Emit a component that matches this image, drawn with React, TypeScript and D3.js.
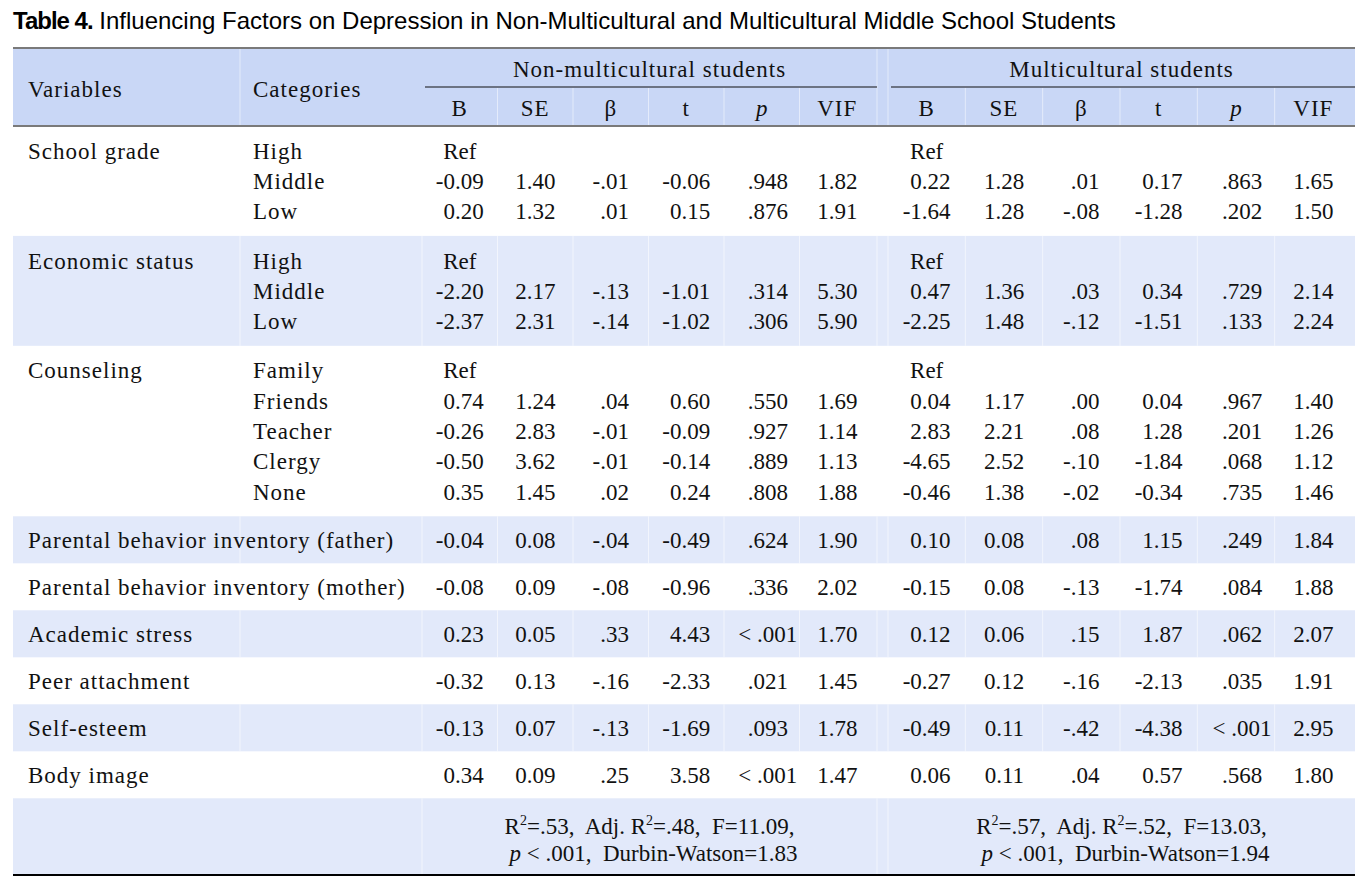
import React, { useMemo } from 'react';
import * as d3 from 'd3';

const TITLE_BOLD = 'Table 4.';
const TITLE_REST = ' Influencing Factors on Depression in Non-Multicultural and Multicultural Middle School Students';
const groupHeaders = ['Non-multicultural students', 'Multicultural students'];
const statCols = ['B', 'SE', 'β', 't', 'p', 'VIF'];

const variableNames = [
  'School grade',
  'Economic status',
  'Counseling',
  'Parental behavior inventory (father)',
  'Parental behavior inventory (mother)',
  'Academic stress',
  'Peer attachment',
  'Self-esteem',
  'Body image',
];

const categoryNames = [
  ['High', 'Middle', 'Low'],
  ['High', 'Middle', 'Low'],
  ['Family', 'Friends', 'Teacher', 'Clergy', 'None'],
  [''],
  [''],
  [''],
  [''],
  [''],
  [''],
];

const nonMultiValues = [
  [['Ref'], ['-0.09', '1.40', '-.01', '-0.06', '.948', '1.82'], ['0.20', '1.32', '.01', '0.15', '.876', '1.91']],
  [['Ref'], ['-2.20', '2.17', '-.13', '-1.01', '.314', '5.30'], ['-2.37', '2.31', '-.14', '-1.02', '.306', '5.90']],
  [
    ['Ref'],
    ['0.74', '1.24', '.04', '0.60', '.550', '1.69'],
    ['-0.26', '2.83', '-.01', '-0.09', '.927', '1.14'],
    ['-0.50', '3.62', '-.01', '-0.14', '.889', '1.13'],
    ['0.35', '1.45', '.02', '0.24', '.808', '1.88'],
  ],
  [['-0.04', '0.08', '-.04', '-0.49', '.624', '1.90']],
  [['-0.08', '0.09', '-.08', '-0.96', '.336', '2.02']],
  [['0.23', '0.05', '.33', '4.43', '< .001', '1.70']],
  [['-0.32', '0.13', '-.16', '-2.33', '.021', '1.45']],
  [['-0.13', '0.07', '-.13', '-1.69', '.093', '1.78']],
  [['0.34', '0.09', '.25', '3.58', '< .001', '1.47']],
];

const multiValues = [
  [['Ref'], ['0.22', '1.28', '.01', '0.17', '.863', '1.65'], ['-1.64', '1.28', '-.08', '-1.28', '.202', '1.50']],
  [['Ref'], ['0.47', '1.36', '.03', '0.34', '.729', '2.14'], ['-2.25', '1.48', '-.12', '-1.51', '.133', '2.24']],
  [
    ['Ref'],
    ['0.04', '1.17', '.00', '0.04', '.967', '1.40'],
    ['2.83', '2.21', '.08', '1.28', '.201', '1.26'],
    ['-4.65', '2.52', '-.10', '-1.84', '.068', '1.12'],
    ['-0.46', '1.38', '-.02', '-0.34', '.735', '1.46'],
  ],
  [['0.10', '0.08', '.08', '1.15', '.249', '1.84']],
  [['-0.15', '0.08', '-.13', '-1.74', '.084', '1.88']],
  [['0.12', '0.06', '.15', '1.87', '.062', '2.07']],
  [['-0.27', '0.12', '-.16', '-2.13', '.035', '1.91']],
  [['-0.49', '0.11', '-.42', '-4.38', '< .001', '2.95']],
  [['0.06', '0.11', '.04', '0.57', '.568', '1.80']],
];

const footerStats = [
  { r2: '.53', adj: '.48', f: '11.09', p: '.001', dw: '1.83' },
  { r2: '.57', adj: '.52', f: '13.03', p: '.001', dw: '1.94' },
];

const SERIF = '"Liberation Serif", "Times New Roman", serif';
const SANS = '"Liberation Sans", Arial, sans-serif';
const FS = 23;
const LS = 1.0;
const HEADER_BG = '#c9d7f6';
const STRIPE_BG = '#e2e9fa';

function measure(text: string, font: string): number {
  if (typeof document === 'undefined') return text.length * 11;
  const c = (measure as any).c || ((measure as any).c = document.createElement('canvas'));
  const ctx = c.getContext('2d');
  ctx.font = font;
  return ctx.measureText(text).width;
}

export default function App() {
  const W = 1369;
  const H = 878;
  const tableLeft = 13;
  const tableRight = 1355;
  const varX = 28;
  const catX = 253;
  const varColEnd = 240;
  const statStart = 422;
  const headerTop = 48;
  const headerBottom = 126;
  const lineH = 30.3;

  const xGroups = [
    d3.scaleBand().domain(statCols).range([statStart, 875]),
    d3.scaleBand().domain(statCols).range([888, 1352]),
  ];
  const groupSpans = [
    [statStart, 877],
    [888, tableRight],
  ];
  const valueSets = [nonMultiValues, multiValues];

  const anchors = useMemo(() => {
    const font = `${FS}px ${SERIF}`;
    return valueSets.map((vals, gi) =>
      statCols.map((col, ci) => {
        let maxW = 0;
        vals.forEach((sec) =>
          sec.forEach((row) => {
            if (row.length > 1) maxW = Math.max(maxW, measure(row[ci], font));
          })
        );
        const sc = xGroups[gi];
        return (sc(col) as number) + sc.bandwidth() / 2 + maxW / 2;
      })
    );
  }, []);

  const sectionLines = categoryNames.map((c) => c.length);
  const sectionHeights = sectionLines.map((n) => n * lineH + (n > 1 ? 19 : 16.7));
  const sectionTops = [headerBottom, ...Array.from(d3.cumsum(sectionHeights)).map((v) => headerBottom + v)];
  const footerTop = sectionTops[sectionTops.length - 1];
  const footerBottom = 874;

  const sepXs: number[] = [];
  xGroups.forEach((sc) => statCols.forEach((c, i) => i > 0 && sepXs.push(sc(c) as number)));

  const rows: React.ReactNode[] = [];
  sectionLines.forEach((n, si) => {
    const top = sectionTops[si];
    const h = sectionHeights[si];
    const mid = top + h / 2;
    const striped = si % 2 === 1;
    rows.push(
      <g key={`bg${si}`}>
        {striped && <rect x={tableLeft} y={top} width={tableRight - tableLeft} height={h} fill={STRIPE_BG} />}
        {striped &&
          [varColEnd, statStart, 877, 888, ...sepXs].map((x, k) => (
            <line key={k} x1={x} x2={x} y1={top} y2={top + h} stroke="#fff" strokeOpacity={0.55} strokeWidth={1} />
          ))}
      </g>
    );
    const firstCenter = mid - ((n - 1) / 2) * lineH;
    rows.push(
      <text key={`v${si}`} x={varX} y={firstCenter + 8} fontFamily={SERIF} fontSize={FS} letterSpacing={LS} fill="#111">
        {variableNames[si]}
      </text>
    );
    categoryNames[si].forEach((cat, li) => {
      const cy = firstCenter + li * lineH + 8;
      if (cat)
        rows.push(
          <text key={`c${si}-${li}`} x={catX} y={cy} fontFamily={SERIF} fontSize={FS} letterSpacing={LS} fill="#111">
            {cat}
          </text>
        );
      valueSets.forEach((vals, gi) => {
        const row = vals[si][li];
        const sc = xGroups[gi];
        if (row.length === 1) {
          rows.push(
            <text key={`r${si}-${li}-${gi}`} x={(sc('B') as number) + sc.bandwidth() / 2} y={cy} textAnchor="middle" fontFamily={SERIF} fontSize={FS} fill="#111">
              {row[0]}
            </text>
          );
        } else {
          row.forEach((v, ci) => {
            const isP = statCols[ci] === 'p';
            const x = isP ? (sc('p') as number) + sc.bandwidth() / 2 + 6 : anchors[gi][ci];
            rows.push(
              <text key={`d${si}-${li}-${gi}-${ci}`} x={x} y={cy} textAnchor={isP ? 'middle' : 'end'} fontFamily={SERIF} fontSize={FS} fill="#111" style={{ whiteSpace: 'pre' }}>
                {v}
              </text>
            );
          });
        }
      });
    });
  });

  return (
    <svg width={W} height={H} style={{ position: 'absolute', left: 0, top: 0, background: '#fff' }}>
      <text x={13} y={29} fontFamily={SANS} fontSize={24} fill="#000">
        <tspan fontWeight="bold" letterSpacing={-1}>{TITLE_BOLD}</tspan>
        <tspan style={{ whiteSpace: 'pre' }}>{TITLE_REST}</tspan>
      </text>

      <rect x={tableLeft} y={headerTop} width={tableRight - tableLeft} height={headerBottom - headerTop} fill={HEADER_BG} />
      {[varColEnd, 877, 888].map((x, k) => (
        <line key={k} x1={x} x2={x} y1={headerTop} y2={headerBottom} stroke="#fff" strokeOpacity={0.5} />
      ))}
      {sepXs.map((x, k) => (
        <line key={`hs${k}`} x1={x} x2={x} y1={88} y2={headerBottom} stroke="#fff" strokeOpacity={0.5} />
      ))}
      <line x1={tableLeft} x2={tableRight} y1={headerTop} y2={headerTop} stroke="#7a7a7a" strokeWidth={2} />
      <line x1={tableLeft} x2={tableRight} y1={headerBottom} y2={headerBottom} stroke="#7a7a7a" strokeWidth={2} />
      <text x={varX} y={97} fontFamily={SERIF} fontSize={FS} letterSpacing={LS} fill="#111">Variables</text>
      <text x={catX} y={97} fontFamily={SERIF} fontSize={FS} letterSpacing={LS} fill="#111">Categories</text>
      {groupHeaders.map((g, gi) => (
        <g key={g}>
          <text x={(groupSpans[gi][0] + groupSpans[gi][1]) / 2} y={77} textAnchor="middle" fontFamily={SERIF} fontSize={FS} letterSpacing={LS} fill="#111">
            {g}
          </text>
          <line x1={groupSpans[gi][0] + 3} x2={groupSpans[gi][1]} y1={87} y2={87} stroke="#111" strokeWidth={1.2} />
          {statCols.map((c) => (
            <text key={c} x={(xGroups[gi](c) as number) + xGroups[gi].bandwidth() / 2} y={116} textAnchor="middle" fontFamily={SERIF} fontSize={FS} fontStyle={c === 'p' ? 'italic' : 'normal'} letterSpacing={c === 'p' ? 0 : LS} fill="#111">
              {c}
            </text>
          ))}
        </g>
      ))}

      {rows}

      <rect x={tableLeft} y={footerTop} width={tableRight - tableLeft} height={footerBottom - footerTop} fill={STRIPE_BG} />
      {[statStart, 877, 888].map((x, k) => (
        <line key={`fs${k}`} x1={x} x2={x} y1={footerTop} y2={footerBottom} stroke="#fff" strokeOpacity={0.55} />
      ))}
      {footerStats.map((s, gi) => {
        const cx = (groupSpans[gi][0] + groupSpans[gi][1]) / 2;
        return (
          <g key={`f${gi}`} fontFamily={SERIF} fontSize={FS} fill="#111">
            <text x={cx} y={834} textAnchor="middle" style={{ whiteSpace: 'pre' }}>
              <tspan>R</tspan>
              <tspan fontSize={14} dy={-9}>2</tspan>
              <tspan dy={9}>{`=${s.r2},  Adj. R`}</tspan>
              <tspan fontSize={14} dy={-9}>2</tspan>
              <tspan dy={9}>{`=${s.adj},  F=${s.f},`}</tspan>
            </text>
            <text x={cx + 4} y={861} textAnchor="middle" style={{ whiteSpace: 'pre' }}>
              <tspan fontStyle="italic">p</tspan>
              <tspan>{` < ${s.p},  Durbin-Watson=${s.dw}`}</tspan>
            </text>
          </g>
        );
      })}
      <line x1={tableLeft} x2={tableRight} y1={footerBottom + 1} y2={footerBottom + 1} stroke="#000" strokeWidth={2} />
    </svg>
  );
}
